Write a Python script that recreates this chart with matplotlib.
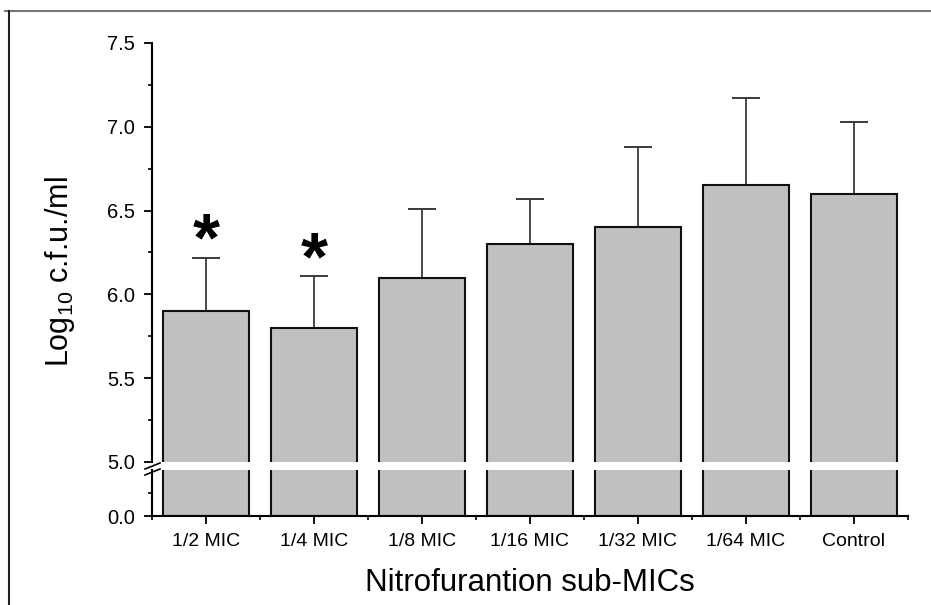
import numpy as np
import matplotlib
matplotlib.use("Agg")
import matplotlib.pyplot as plt
from matplotlib.lines import Line2D

plt.rcParams['font.family'] = ['Liberation Sans', 'DejaVu Sans']

# data
groups = ['1/2 MIC', '1/4 MIC', '1/8 MIC', '1/16 MIC', '1/32 MIC', '1/64 MIC', 'Control']
means = [5.90, 5.80, 6.10, 6.30, 6.40, 6.65, 6.60]
errs = [0.32, 0.31, 0.41, 0.27, 0.48, 0.52, 0.43]
signif = [True, True, False, False, False, False, False]

x = np.arange(len(groups))

fig = plt.figure(figsize=(9.31, 6.05), dpi=100)
W, H = 931.0, 605.0

left = 152 / W
width = 756 / W
ax_top = fig.add_axes([left, 1 - 462 / H, width, (462 - 43) / H])
ax_bot = fig.add_axes([left, 1 - 516 / H, width, (516 - 470) / H])

for ax in (ax_top, ax_bot):
    ax.bar(x, means, width=0.8, color='#c0c0c0', edgecolor='#111111', linewidth=1.5, zorder=2)
    ax.set_xlim(-0.5, 6.5)
    for s in ('top', 'right'):
        ax.spines[s].set_visible(False)
    ax.spines['left'].set_linewidth(1.5)
    ax.spines['bottom'].set_linewidth(1.5)
    ax.tick_params(axis='y', which='major', direction='out', length=6, width=1.3, labelsize=14.5, pad=6)
    ax.tick_params(axis='y', which='minor', direction='out', length=3, width=1.2)

# error bars only upward, drawn under the bars so the bar edge stays on top
ax_top.errorbar(x, means, yerr=[np.zeros(len(errs)), errs], fmt='none', ecolor='#3a3a3a',
                elinewidth=1.3, capsize=10, capthick=1.4, zorder=1)

# significance stars
for xi, m, e, s in zip(x, means, errs, signif):
    if s:
        ax_top.text(xi, m + e - 0.02, '*', ha='center', va='baseline', fontsize=50,
                    fontweight='bold', color='black')

ax_top.set_ylim(5.0, 7.5)
ax_top.set_yticks([5.0, 5.5, 6.0, 6.5, 7.0, 7.5])
ax_top.set_yticklabels(['5.0', '5.5', '6.0', '6.5', '7.0', '7.5'])
ax_top.set_yticks(np.arange(5.25, 7.5, 0.5), minor=True)
ax_top.spines['bottom'].set_visible(False)
ax_top.set_xticks([])

ax_bot.set_ylim(0, 5.0)
ax_bot.set_yticks([0.0])
ax_bot.set_yticklabels(['0.0'])
ax_bot.set_yticks([2.5], minor=True)
ax_bot.set_xticks(x)
ax_bot.set_xticklabels(groups, fontsize=14)
ax_bot.set_xticks(np.arange(-0.5, 7.0, 1.0), minor=True)
ax_bot.tick_params(axis='x', which='major', direction='out', length=6, width=1.3, pad=6)
ax_bot.tick_params(axis='x', which='minor', direction='out', length=3, width=1.2)

# axis break marks
for yb in (466, 472):
    fig.add_artist(Line2D([145 / W, 160 / W], [1 - (yb + 3) / H, 1 - (yb - 3) / H],
                          color='black', lw=1.2))

fig.text(60 / W, 1 - 272 / H, r'Log$_\mathregular{10}$ c.f.u./ml', rotation=90,
         ha='center', va='center', fontsize=22)
fig.text(530 / W, 1 - 591 / H, 'Nitrofurantion sub-MICs', ha='center', va='baseline', fontsize=22.5)

# outer frame
fig.add_artist(Line2D([5 / W, 1.0], [1 - 11 / H, 1 - 11 / H], color='#777777', lw=1.5))
fig.add_artist(Line2D([9 / W, 9 / W], [0, 1 - 11 / H], color='#222222', lw=1.5))

fig.savefig('out.png', dpi=100)
